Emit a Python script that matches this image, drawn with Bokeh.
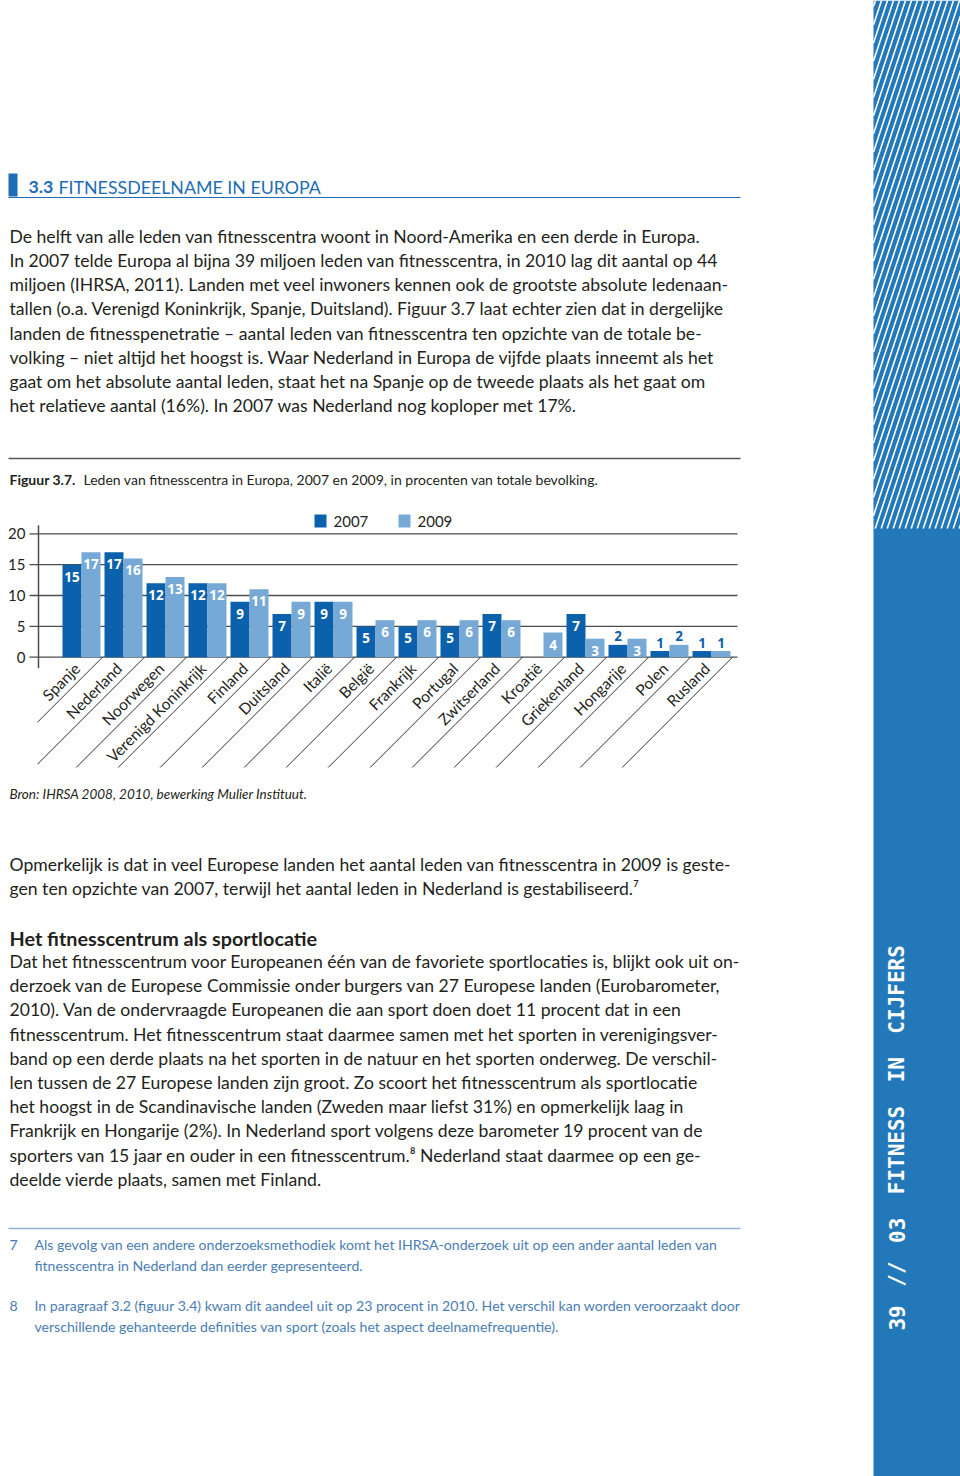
import math
from bokeh.plotting import figure
from bokeh.models import Range1d, ColumnDataSource
from bokeh.core.properties import value
from bokeh.embed import file_html
from bokeh.resources import INLINE

# ---------------- data ----------------
countries = ["Spanje", "Nederland", "Noorwegen", "Verenigd Koninkrijk", "Finland",
             "Duitsland", "Italië", "België", "Frankrijk", "Portugal", "Zwitserland",
             "Kroatië", "Griekenland", "Hongarije", "Polen", "Rusland"]
values_2007 = [15, 17, 12, 12, 9, 7, 9, 5, 5, 5, 7, None, 7, 2, 1, 1]
values_2009 = [17, 16, 13, 12, 11, 9, 9, 6, 6, 6, 6, 4, 3, 3, 2, 1]
y_ticks = [0, 5, 10, 15, 20]
series_names = ["2007", "2009"]

para1 = [
    "De helft van alle leden van fitnesscentra woont in Noord-Amerika en een derde in Europa.",
    "In 2007 telde Europa al bijna 39 miljoen leden van fitnesscentra, in 2010 lag dit aantal op 44",
    "miljoen (IHRSA, 2011). Landen met veel inwoners kennen ook de grootste absolute ledenaan-",
    "tallen (o.a. Verenigd Koninkrijk, Spanje, Duitsland). Figuur 3.7 laat echter zien dat in dergelijke",
    "landen de fitnesspenetratie – aantal leden van fitnesscentra ten opzichte van de totale be-",
    "volking – niet altijd het hoogst is. Waar Nederland in Europa de vijfde plaats inneemt als het",
    "gaat om het absolute aantal leden, staat het na Spanje op de tweede plaats als het gaat om",
    "het relatieve aantal (16%). In 2007 was Nederland nog koploper met 17%.",
]
para2 = [
    "Opmerkelijk is dat in veel Europese landen het aantal leden van fitnesscentra in 2009 is geste-",
    "gen ten opzichte van 2007, terwijl het aantal leden in Nederland is gestabiliseerd.⁷",
]
para3 = [
    "Dat het fitnesscentrum voor Europeanen één van de favoriete sportlocaties is, blijkt ook uit on-",
    "derzoek van de Europese Commissie onder burgers van 27 Europese landen (Eurobarometer,",
    "2010). Van de ondervraagde Europeanen die aan sport doen doet 11 procent dat in een",
    "fitnesscentrum. Het fitnesscentrum staat daarmee samen met het sporten in verenigingsver-",
    "band op een derde plaats na het sporten in de natuur en het sporten onderweg. De verschil-",
    "len tussen de 27 Europese landen zijn groot. Zo scoort het fitnesscentrum als sportlocatie",
    "het hoogst in de Scandinavische landen (Zweden maar liefst 31%) en opmerkelijk laag in",
    "Frankrijk en Hongarije (2%). In Nederland sport volgens deze barometer 19 procent van de",
    "sporters van 15 jaar en ouder in een fitnesscentrum.⁸ Nederland staat daarmee op een ge-",
    "deelde vierde plaats, samen met Finland.",
]
footnotes = [
    ("7", ["Als gevolg van een andere onderzoeksmethodiek komt het IHRSA-onderzoek uit op een ander aantal leden van",
           "fitnesscentra in Nederland dan eerder gepresenteerd."]),
    ("8", ["In paragraaf 3.2 (figuur 3.4) kwam dit aandeel uit op 23 procent in 2010. Het verschil kan worden veroorzaakt door",
           "verschillende gehanteerde definities van sport (zoals het aspect deelnamefrequentie)."]),
]
strip_text = "39 // 03 FITNESS IN CIJFERS"

# ---------------- style ----------------
C_DARK = "#0b61ab"
C_LIGHT = "#76a9d6"
C_TEXT = "#231f20"
C_BLUE = "#1f6db4"
C_STRIP = "#2378b9"
C_FOOT = "#4a7db4"
FONT = "Lato"
BODY = 17.6

W, H = 960, 1476
p = figure(width=W, height=H, x_range=Range1d(0, W), y_range=Range1d(H, 0),
           output_backend="svg", toolbar_location=None, min_border=0,
           x_axis_location=None, y_axis_location=None)
p.grid.visible = False
p.outline_line_color = None
p.background_fill_color = "white"

# chart scales (extra ranges): page x = U0 + UPX*u ; page y = V0 - VPX*v
U0, UPX = 60.0, 42.0
V0, VPX = 656.7, 6.17
p.extra_x_ranges = {"cx": Range1d(start=(0 - U0) / UPX, end=(W - U0) / UPX)}
p.extra_y_ranges = {"cy": Range1d(start=(V0 - H) / VPX, end=(V0 - 0) / VPX)}
CH = dict(x_range_name="cx", y_range_name="cy")


def T(x, y, s, size, color=C_TEXT, style="normal", align="left", baseline="middle",
      font=FONT, angle=0.0, **kw):
    p.text(x=[x], y=[y], text=[s], text_font=value(font), text_font_size=f"{size}px",
           text_color=color, text_font_style=style, text_align=align,
           text_baseline=baseline, angle=angle, **kw)


# ---------------- right strip ----------------
p.quad(left=[873], right=[W], top=[0], bottom=[H], fill_color=C_STRIP, line_color=None)
s = 0.33
ybot, ytop = 528.0, 0.0
xs, ys = [], []
xb = 873 - (ybot - ytop) * s - 10
while xb < W:
    y_at_left = ybot - (873 - xb) / s
    y_at_right = ybot - (W - xb) / s
    y_hi = min(ybot, y_at_left)
    y_lo = max(ytop, y_at_right)
    if y_hi > y_lo:
        xs.append([xb + (ybot - y_hi) * s, xb + (ybot - y_lo) * s])
        ys.append([y_hi, y_lo])
    xb += 6.0
p.multi_line(xs=xs, ys=ys, line_color="white", line_width=1.6)

# vertical running title: words placed on a uniform letter pitch
pitch = 14.6
y_start = 1332.0
k = 0
for w in strip_text.split(" "):
    c0 = y_start - pitch * k
    c1 = y_start - pitch * (k + len(w))
    T(896, (c0 + c1) / 2, w, 21, color="white", style="bold", align="center",
      baseline="middle", font="DejaVu Sans Mono", angle=math.pi / 2)
    k += len(w) + 1

# ---------------- header ----------------
p.quad(left=[8], right=[17], top=[173], bottom=[196], fill_color=C_BLUE, line_color=None)
T(28, 186, "3.3", 17.8, color=C_BLUE, style="bold")
T(58, 186, "FITNESSDEELNAME IN EUROPA", 17.8, color=C_BLUE)
p.segment(x0=[8], x1=[740], y0=[197], y1=[197], line_color=C_BLUE, line_width=1.2)

for k, line in enumerate(para1):
    T(9, 236 + 24.14 * k, line, BODY)

# ---------------- figure caption ----------------
p.segment(x0=[8], x1=[740], y0=[458], y1=[458], line_color="#555555", line_width=1.5)
T(9, 479, "Figuur 3.7.", 14.0, style="bold")
T(83, 479, "Leden van fitnesscentra in Europa, 2007 en 2009, in procenten van totale bevolking.", 14.0)

# ---------------- chart ----------------
n = len(countries)
grid_u0, grid_u1 = (29 - U0) / UPX, (737 - U0) / UPX
p.segment(x0=[grid_u0] * len(y_ticks), x1=[grid_u1] * len(y_ticks), y0=y_ticks, y1=y_ticks,
          line_color="#4d4d4d", line_width=1.3, **CH)
axis_u = (38 - U0) / UPX
p.segment(x0=[axis_u], x1=[axis_u], y0=[-1.8], y1=[21.4], line_color="#4d4d4d", line_width=1.5, **CH)
p.text(x=[(25 - U0) / UPX] * len(y_ticks), y=y_ticks, text=[str(t) for t in y_ticks],
       text_font=value(FONT), text_font_size="15px", text_color=C_TEXT,
       text_align="right", text_baseline="middle", **CH)

half = 19.0 / UPX / 2
bw = 19.0 / UPX
for vals, off, col in [(values_2007, -half, C_DARK), (values_2009, half, C_LIGHT)]:
    xs_ = [i + 0.5 + off for i, v in enumerate(vals) if v is not None]
    vs_ = [v for v in vals if v is not None]
    src = ColumnDataSource(dict(x=xs_, top=vs_))
    p.vbar(x="x", top="top", bottom=0, width=bw, source=src, fill_color=col, line_color=None, **CH)
    inside = [(x, v) for x, v in zip(xs_, vs_) if v >= 3]
    above = [(x, v) for x, v in zip(xs_, vs_) if v < 3]
    if inside:
        p.text(x=[a for a, b in inside], y=[b - 12.0 / VPX for a, b in inside],
               text=[str(b) for a, b in inside], text_font=value("Open Sans"),
               text_font_size="13.5px", text_font_style="bold", text_color="white",
               text_align="center", text_baseline="middle", **CH)
    if above:
        p.text(x=[a for a, b in above], y=[b + 8.5 / VPX for a, b in above],
               text=[str(b) for a, b in above], text_font=value("Open Sans"),
               text_font_size="13.5px", text_font_style="bold", text_color=C_DARK,
               text_align="center", text_baseline="middle", **CH)

# slanted category separators and labels
lx, ly, tx, ty = [], [], [], []
for i in range(n):
    xs0 = U0 + UPX * (i + 1)
    L = min(767 - V0, xs0 - 37)
    lx.append([xs0, xs0 - L])
    ly.append([V0, V0 + L])
    a, pp = 17.0, 3.0
    tx.append(xs0 - a - pp / math.sqrt(2))
    ty.append(V0 + a - pp / math.sqrt(2))
p.multi_line(xs=lx, ys=ly, line_color="#333333", line_width=1.0)
p.text(x=tx, y=ty, text=countries, text_font=value(FONT), text_font_size="15.5px",
       text_color=C_TEXT, text_align="right", text_baseline="bottom", angle=math.pi / 4)

# legend
p.rect(x=[320, 404], y=[520.5, 520.5], width=12, height=13, fill_color=[C_DARK, C_LIGHT], line_color=None)
T(333, 521, series_names[0], 15)
T(417, 521, series_names[1], 15)

T(9, 793, "Bron: IHRSA 2008, 2010, bewerking Mulier Instituut.", 13.5, style="italic")

# ---------------- text below ----------------
for k, line in enumerate(para2):
    T(9, 864 + 24.2 * k, line, BODY)
T(9, 937, "Het fitnesscentrum als sportlocatie", 19.8, style="bold")
for k, line in enumerate(para3):
    T(9, 961 + 24.2 * k, line, BODY)

p.segment(x0=[8], x1=[740], y0=[1228], y1=[1228], line_color="#8fb2d4", line_width=1.5)
fy = [1244, 1305]
for (num, lines), y0 in zip(footnotes, fy):
    T(9, y0, num, 14.1, color=C_FOOT)
    for k, line in enumerate(lines):
        T(34, y0 + 20.5 * k, line, 14.1, color=C_FOOT)

open("out.html", "w").write(file_html(p, INLINE))
